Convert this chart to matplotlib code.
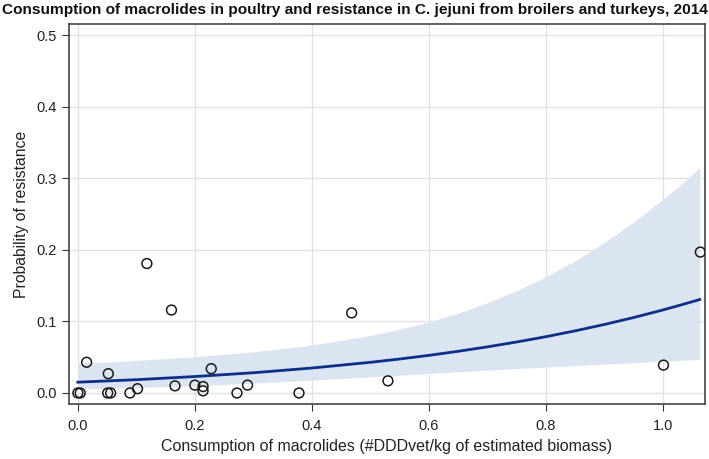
import numpy as np
import matplotlib
matplotlib.use("Agg")
import matplotlib.pyplot as plt

plt.rcParams['font.family'] = ['Liberation Sans', 'DejaVu Sans']

# observed country data points
consumption = [0.0, 0.004, 0.015, 0.051, 0.052, 0.056, 0.089, 0.102, 0.118, 0.160,
               0.166, 0.200, 0.214, 0.214, 0.228, 0.272, 0.290, 0.378, 0.468, 0.530,
               1.001, 1.064]
resistance = [0.0, 0.0, 0.043, 0.0, 0.027, 0.0, 0.0, 0.006, 0.181, 0.116,
              0.010, 0.011, 0.009, 0.003, 0.034, 0.0, 0.011, 0.0, 0.112, 0.017,
              0.039, 0.197]

# fitted curve and confidence band
fit_x = [0.0, 0.1, 0.2, 0.3, 0.4, 0.5, 0.55, 0.6, 0.65, 0.7, 0.75, 0.8,
         0.85, 0.9, 0.95, 1.0, 1.03, 1.063]
fit_p = [0.0151, 0.0186, 0.0230, 0.0283, 0.0349, 0.0429, 0.0475, 0.0526, 0.0583, 0.0645,
         0.0713, 0.0787, 0.0869, 0.0958, 0.1055, 0.1161, 0.1229, 0.1307]
fit_lo = [0.0054, 0.0075, 0.0102, 0.0137, 0.0179, 0.0225, 0.0248, 0.0272, 0.0296, 0.0318,
          0.0341, 0.0362, 0.0383, 0.0404, 0.0424, 0.0444, 0.0456, 0.0469]
fit_hi = [0.0414, 0.0456, 0.0507, 0.0576, 0.0670, 0.0804, 0.0891, 0.0994, 0.1117, 0.1262,
          0.1431, 0.1626, 0.1850, 0.2105, 0.2390, 0.2707, 0.2912, 0.3150]

x_ticks = [0.0, 0.2, 0.4, 0.6, 0.8, 1.0]
y_ticks = [0.0, 0.1, 0.2, 0.3, 0.4, 0.5]

fig = plt.figure(figsize=(7.09, 4.59), dpi=100)
ax = fig.add_axes([68.5/709, 1 - 404/459, (705 - 68.5)/709, (404 - 24)/459])

ax.fill_between(fit_x, fit_lo, fit_hi, color='#dbe5f2', linewidth=0, zorder=1)
ax.plot(fit_x, fit_p, color='#0c2f87', linewidth=2, zorder=3)
ax.scatter(consumption, resistance, s=50, facecolors='none', edgecolors='#1a1a1a',
           linewidths=1.1, zorder=4)

ax.set_xlim(-0.016, 1.072)
ax.set_ylim(-0.0154, 0.516)
ax.set_xticks(x_ticks)
ax.set_yticks(y_ticks)
ax.set_xticklabels([f"{t:.1f}" for t in x_ticks], fontsize=10.5)
ax.set_yticklabels([f"{t:.1f}" for t in y_ticks], fontsize=10.5)
ax.grid(color='#e3e3e3', linewidth=1)
ax.set_axisbelow(True)
ax.tick_params(direction='out', length=5, color='#333333', labelcolor='#222222')
ax.tick_params(axis='x', pad=6)
for sp in ax.spines.values():
    sp.set_color('#444444')
    sp.set_linewidth(1.2)

ax.set_xlabel("Consumption of macrolides (#DDDvet/kg of estimated biomass)", fontsize=11.5, color='#222222', labelpad=4)
ax.set_ylabel("Probability of resistance", fontsize=11.3, color='#222222', labelpad=5)
fig.text(0.5, 1 - 10/459, "Consumption of macrolides in poultry and resistance in C. jejuni from broilers and turkeys, 2014",
         ha='center', va='center', fontsize=11.05, fontweight='bold', color='#111111')

fig.savefig("out.png", dpi=100)
